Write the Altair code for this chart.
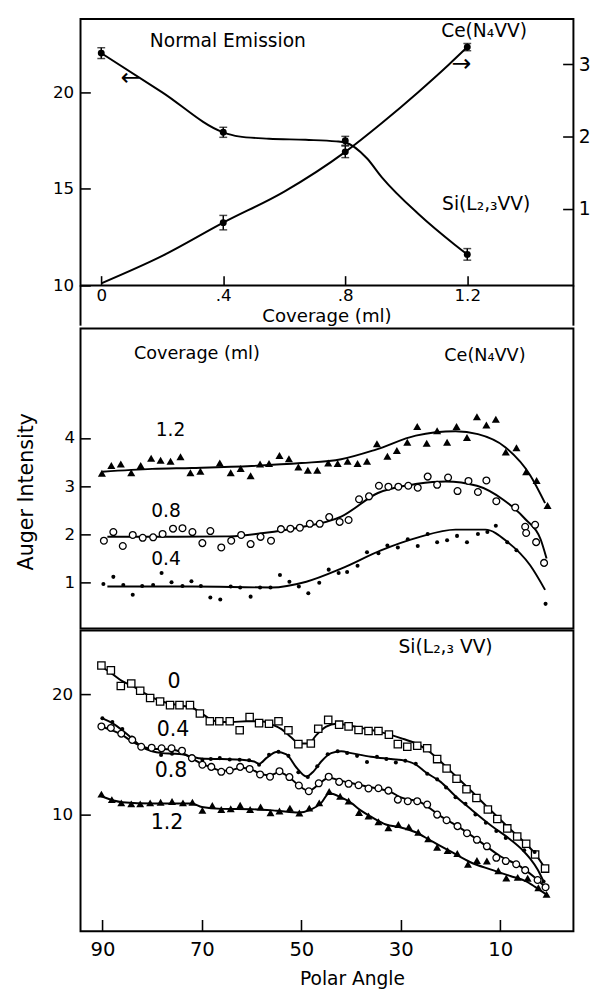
import altair as alt
import pandas as pd

FONT = "DejaVu Sans"
W = 503
H_TOP, H_MID, H_BOT = 272, 306, 307

# ---------------- top panel: normal emission vs coverage ----------------
cov = [0.0, 0.4, 0.8, 1.2]
si_ne = [22.03, 17.93, 17.49, 11.61]
si_ne_err = [0.28, 0.26, 0.23, 0.30]
ce_cov = [0.4, 0.8, 1.2]
ce_ne = [0.81, 1.79, 3.24]
ce_ne_err = [0.10, 0.08, 0.05]
si_fit = [(0.0, 22.03), (0.2, 20.0), (0.4, 17.93), (0.45, 17.72), (0.55, 17.6),
          (0.67, 17.54), (0.77, 17.46), (0.8, 17.4), (0.87, 16.6), (0.92, 15.6),
          (1.04, 13.7), (1.16, 12.1), (1.2, 11.61)]
ce_fit = [(0.0, -0.03), (0.2, 0.35), (0.4, 0.81), (0.6, 1.24), (0.8, 1.79),
          (0.92, 2.19), (1.04, 2.62), (1.14, 3.0), (1.2, 3.24)]

# ---------------- middle panel: Ce(N4VV) vs polar angle ----------------
ce12 = [(90.1, 3.27), (88.2, 3.43), (86.3, 3.46), (84.2, 3.28), (82.3, 3.43), (80.2, 3.58),
        (78.3, 3.54), (76.3, 3.52), (74.3, 3.61), (72.3, 3.28), (70.3, 3.31), (66.4, 3.48),
        (64.2, 3.28), (62.2, 3.37), (60.2, 3.22), (58.3, 3.46), (56.5, 3.47), (54.4, 3.64),
        (52.5, 3.57), (50.6, 3.40), (48.7, 3.33), (46.8, 3.33), (44.6, 3.48), (42.7, 3.47),
        (40.7, 3.52), (38.7, 3.47), (36.8, 3.52), (34.8, 3.88), (32.7, 3.62), (30.8, 3.74),
        (28.7, 3.91), (26.7, 4.24), (24.8, 3.89), (22.7, 4.15), (20.7, 3.91), (18.8, 4.24),
        (16.7, 4.01), (14.7, 4.44), (12.8, 4.27), (10.9, 4.39), (8.9, 3.71), (6.75, 3.80),
        (4.8, 3.30), (2.7, 3.12), (0.5, 2.60)]
ce08 = [(89.7, 1.87), (87.8, 2.05), (85.9, 1.76), (83.9, 1.99), (81.9, 1.93), (79.8, 1.94),
        (77.9, 2.01), (75.8, 2.12), (73.9, 2.13), (71.9, 2.05), (69.9, 1.82), (68.3, 2.07),
        (66.1, 1.73), (64.1, 1.87), (62.1, 1.99), (60.2, 1.80), (58.2, 1.95), (56.1, 1.87),
        (54.1, 2.11), (52.2, 2.12), (50.3, 2.14), (48.3, 2.22), (46.3, 2.22), (44.4, 2.36),
        (42.3, 2.26), (40.5, 2.30), (38.4, 2.73), (36.4, 2.79), (34.4, 3.01), (32.5, 2.99),
        (30.5, 2.99), (28.5, 3.01), (26.6, 2.97), (24.6, 3.20), (22.7, 3.03), (20.5, 3.18),
        (18.6, 2.90), (16.4, 3.11), (14.5, 2.88), (12.8, 3.12), (10.8, 2.69), (7.0, 2.56),
        (5.0, 2.16), (4.8, 2.03), (3.0, 2.20), (2.8, 1.84), (1.2, 1.41)]
ce04 = [(89.8, 0.97), (87.8, 1.12), (85.8, 0.95), (83.9, 0.75), (82.0, 0.93), (79.8, 0.95),
        (78.1, 1.20), (76.1, 1.01), (73.9, 0.93), (72.1, 1.03), (70.2, 0.93), (68.3, 0.69),
        (66.3, 0.65), (64.2, 0.92), (62.3, 0.90), (60.2, 0.71), (58.3, 0.90), (56.2, 0.90),
        (54.3, 1.16), (52.4, 1.02), (50.5, 0.92), (48.6, 0.78), (46.4, 1.00), (44.5, 1.27),
        (42.5, 1.20), (40.8, 1.22), (38.7, 1.35), (36.8, 1.63), (34.5, 1.61), (32.7, 1.77),
        (30.6, 1.73), (28.6, 1.90), (26.6, 1.76), (24.6, 2.01), (22.7, 1.84), (20.7, 1.88),
        (18.7, 1.97), (16.7, 1.84), (14.5, 2.01), (12.6, 2.05), (10.9, 2.18), (8.6, 1.84),
        (6.75, 1.67), (0.9, 0.56)]
ce12_fit = [(90, 3.3), (80, 3.36), (72, 3.38), (60, 3.42), (50, 3.48), (42, 3.56), (35, 3.76),
            (27, 4.05), (19, 4.14), (14.5, 4.08), (9, 3.81), (4, 3.23), (1, 2.65)]
ce08_fit = [(89, 1.95), (75, 1.95), (64.5, 1.96), (57.6, 2.03), (50.6, 2.14), (42, 2.37),
            (34.6, 2.86), (26.7, 3.05), (21, 3.10), (14.7, 3.01), (9.4, 2.72), (4.9, 2.31),
            (1.9, 1.90), (0.7, 1.50)]
ce04_fit = [(89, 0.92), (72, 0.92), (56, 0.90), (49, 1.02), (42, 1.29), (34, 1.67),
            (26.5, 1.94), (19, 2.10), (13, 2.10), (8.5, 1.84), (4, 1.36), (1, 0.85)]

# ---------------- bottom panel: Si(L2,3VV) vs polar angle ----------------
si0 = [(90.2, 22.4), (88.3, 22.0), (86.3, 20.7), (84.2, 20.9), (82.4, 20.3), (80.4, 19.7),
       (78.4, 19.4), (76.4, 19.1), (74.5, 19.1), (72.4, 19.1), (70.4, 18.4), (68.4, 17.75),
       (66.5, 17.75), (64.4, 17.75), (62.4, 17.0), (60.4, 18.1), (58.5, 17.6), (56.5, 17.55),
       (54.6, 17.75), (52.6, 17.0), (50.6, 15.85), (48.1, 15.9), (46.6, 17.13), (44.6, 17.87),
       (42.4, 17.47), (40.5, 17.33), (38.5, 17.02), (36.5, 16.94), (34.5, 16.94), (32.4, 16.64),
       (30.6, 15.85), (28.7, 15.63), (26.7, 15.71), (24.7, 15.5), (22.7, 14.6), (20.8, 13.81),
       (18.8, 12.96), (16.8, 12.09), (14.8, 11.36), (12.5, 10.4), (10.6, 9.6), (8.6, 8.82),
       (6.6, 8.14), (4.8, 7.54), (3.0, 6.64), (1.0, 5.47)]
si04 = [(90.0, 18.0), (88.0, 17.7), (86.0, 17.1), (84.1, 16.4), (82.1, 15.6), (78.2, 14.95),
        (76.0, 15.05), (74.0, 15.4), (72.0, 14.8), (69.9, 14.54), (68.2, 14.6), (66.4, 14.68),
        (64.4, 14.56), (62.4, 14.54), (60.5, 14.5), (58.5, 14.13), (56.5, 14.97), (54.6, 15.22),
        (52.6, 14.87), (50.6, 13.5), (48.7, 13.1), (46.8, 14.0), (44.7, 15.0), (42.7, 15.25),
        (40.8, 15.1), (38.8, 14.87), (36.8, 14.35), (34.8, 14.8), (32.9, 14.6), (31.0, 14.32),
        (29.1, 14.46), (27.0, 14.22), (24.7, 13.37), (22.7, 12.91), (20.9, 12.23), (19.0, 11.41),
        (17.0, 10.87), (15.0, 9.98), (12.9, 9.3), (10.8, 8.6), (8.9, 8.03), (5.2, 7.0),
        (3.1, 6.85), (1.3, 4.4)]
si08 = [(90.2, 17.32), (88.3, 17.2), (86.2, 16.72), (84.0, 16.2), (82.2, 15.63), (80.1, 15.55),
        (78.1, 15.5), (76.1, 15.5), (74.0, 15.3), (72.0, 14.68), (69.9, 14.13), (68.1, 13.95),
        (66.1, 13.54), (64.4, 13.65), (62.3, 13.95), (60.4, 13.78), (58.3, 13.32), (56.3, 13.13),
        (54.4, 13.59), (52.4, 13.1), (50.5, 12.4), (48.5, 11.92), (46.5, 12.58), (44.5, 13.13),
        (42.4, 12.7), (40.5, 12.54), (38.5, 12.42), (36.5, 12.15), (34.5, 12.17), (32.5, 11.97),
        (30.6, 11.22), (28.6, 11.09), (26.7, 11.09), (24.7, 10.81), (22.7, 9.97), (20.8, 9.5),
        (18.6, 9.01), (16.7, 8.42), (14.7, 7.87), (12.7, 7.33), (10.8, 6.37), (8.9, 6.1),
        (6.8, 5.83), (5.0, 5.34), (2.5, 4.52), (0.9, 3.92)]
si12 = [(90.2, 11.68), (88.1, 11.22), (86.2, 10.95), (84.2, 10.87), (82.4, 10.87), (80.4, 10.95),
        (78.3, 11.0), (76.0, 11.06), (73.8, 10.95), (71.9, 11.0), (69.9, 10.32), (67.9, 10.73),
        (66.1, 10.4), (64.2, 10.46), (62.3, 10.75), (60.3, 10.4), (58.2, 10.6), (56.2, 10.13),
        (54.4, 10.27), (52.3, 10.51), (50.4, 10.1), (48.4, 10.51), (46.4, 10.95), (44.4, 11.9),
        (42.2, 11.5), (40.5, 11.1), (38.4, 10.15), (36.5, 9.85), (34.5, 9.37), (32.5, 8.88),
        (30.5, 9.15), (28.4, 8.95), (26.5, 8.5), (24.5, 7.95), (22.7, 7.25), (20.6, 6.97),
        (18.65, 6.73), (16.5, 5.83), (14.7, 6.15), (12.7, 6.1), (10.4, 5.29), (8.8, 4.68),
        (6.5, 4.74), (4.5, 4.66), (2.35, 3.87), (0.7, 3.32)]
si0_fit = [(90.2, 22.3), (88, 21.7), (86, 21.1), (84, 20.7), (82, 20.2), (80, 19.75), (78, 19.4),
           (76, 19.2), (74, 19.05), (72, 18.9), (70, 18.4), (68, 17.85), (66, 17.7), (64, 17.7),
           (61, 17.75), (58, 17.75), (56, 17.5), (54, 17.1), (52, 16.4), (50.5, 15.9), (48.5, 15.9),
           (47, 16.6), (45, 17.3), (43, 17.55), (41, 17.45), (38, 17.2), (34, 16.85), (30, 16.35),
           (27, 15.9), (24.5, 15.3), (22, 14.4), (20, 13.6), (16, 12.0), (12, 10.35), (8, 8.75),
           (5, 7.6), (3, 6.7), (1, 5.5)]
si04_fit = [(90, 18.0), (88, 17.6), (86, 17.0), (84, 16.3), (82, 15.6), (80, 15.25), (78, 15.1),
            (76, 15.05), (74, 15.0), (72, 14.8), (70, 14.65), (66, 14.6), (62, 14.55), (59.5, 14.4),
            (58.5, 14.2), (57, 14.7), (55, 15.2), (53, 15.0), (51, 13.9), (49, 13.15), (47.5, 13.6),
            (46, 14.4), (44, 15.1), (42, 15.25), (40, 15.1), (36, 14.8), (32, 14.6), (29, 14.45),
            (27, 14.15), (25, 13.5), (22, 12.7), (19, 11.5), (16, 10.45), (12, 9.1), (8, 7.9),
            (5.5, 7.0), (4, 6.3), (2.5, 5.4), (1.3, 4.4)]
si08_fit = [(90.2, 17.3), (88, 17.0), (86, 16.6), (84, 16.05), (82, 15.65), (80, 15.45), (78, 15.45),
            (76, 15.4), (74, 15.15), (72, 14.65), (70, 14.2), (68, 13.9), (66, 13.62), (64, 13.7),
            (62, 13.88), (60, 13.72), (58, 13.35), (56.3, 13.25), (54.5, 13.5), (52.5, 13.1),
            (50.5, 12.4), (48.5, 11.95), (46.5, 12.5), (44.5, 13.05), (42.5, 12.85), (40, 12.6),
            (36, 12.25), (32, 11.85), (30, 11.4), (26, 11.0), (22, 9.85), (18, 8.85), (14, 7.7),
            (10, 6.5), (6, 5.65), (3, 4.7), (0.9, 3.9)]
si12_fit = [(90.2, 11.5), (86, 11.0), (80, 10.9), (72, 10.9), (70, 10.6), (66, 10.45), (60, 10.42),
            (55, 10.3), (50.5, 10.15), (48, 10.4), (46, 10.95), (44.4, 11.75), (42, 11.4), (40, 10.95),
            (38, 10.3), (36, 9.8), (33, 9.15), (30, 8.9), (27, 8.5), (24, 7.8), (20, 6.9), (16, 6.0),
            (12, 5.4), (8, 4.85), (5, 4.45), (3, 3.95), (0.7, 3.3)]

# annotation texts (positions in data units)
top_labels = [("Normal Emission", 0.415, 22.66), ("Ce(N\u2084VV)", 1.255, 23.17),
              ("Si(L\u2082,\u2083VV)", 1.262, 14.22)]
top_arrows = [("\u2190", 0.096, 20.73), ("\u2192", 1.181, 21.44)]
mid_labels = [("Coverage (ml)", 71.0, 5.74), ("Ce(N\u2084VV)", 13.1, 5.70)]
mid_curve_labels = [("1.2", 76.3, 4.16), ("0.8", 77.2, 2.49), ("0.4", 77.2, 1.49)]
bot_labels = [("Si(L\u2082,\u2083 VV)", 21.0, 23.94)]
bot_curve_labels = [("0", 75.6, 21.0), ("0.4", 75.8, 17.0), ("0.8", 76.2, 13.56), ("1.2", 77.0, 9.23)]


def pairs_df(pairs, xname="a", yname="v"):
    return pd.DataFrame(pairs, columns=[xname, yname])


def text_df(items, xname="a"):
    return pd.DataFrame(items, columns=["t", xname, "v"])


one = pd.DataFrame({"k": [0]})

# ---------------- scales & axes ----------------
cov_scale = alt.Scale(domain=[-0.068, 1.548], nice=False, zero=False)
si_top_scale = alt.Scale(domain=[10, 23.8], nice=False, zero=False)
ce_top_scale = alt.Scale(domain=[-0.06, 3.63], nice=False, zero=False)
ang_scale = alt.Scale(domain=[-4.7, 94.4], reverse=True, nice=False, zero=False)
mid_scale = alt.Scale(domain=[0.05, 6.27], nice=False, zero=False)
bot_scale = alt.Scale(domain=[0.245, 25.33], nice=False, zero=False)

cov_axis = alt.Axis(values=[0, 0.4, 0.8, 1.2], offset=-10, tickSize=10, labelPadding=2,
                    labelFontSize=17, title=None,
                    labelExpr="datum.value == 0 ? '0' : (datum.value < 1 ? replace(format(datum.value, '.1f'), '0.', '.') : format(datum.value, '.1f'))")
si_top_axis = alt.Axis(values=[10, 15, 20], offset=-10, tickSize=10, labelPadding=7,
                       labelFontSize=17, title=None)
ce_top_axis = alt.Axis(orient="right", values=[1, 2, 3], offset=-11, tickSize=11,
                       labelPadding=5, labelFontSize=19, title=None)
mid_axis = alt.Axis(values=[1, 2, 3, 4], offset=-10, tickSize=10, labelPadding=6,
                    labelFontSize=17, title=None)
bot_axis = alt.Axis(values=[10, 20], offset=-10, tickSize=10, labelPadding=8,
                    labelFontSize=17, title=None)
ang_axis = alt.Axis(values=[90, 70, 50, 30, 10], offset=-12, tickSize=12, labelPadding=9,
                    labelFontSize=20, title=None, format="d")

X_cov = alt.X("c:Q", scale=cov_scale, axis=cov_axis)
LW = 2.0

# ---------------- top chart ----------------
si_pts_df = pd.DataFrame({"c": cov, "v": si_ne,
                          "lo": [v - e for v, e in zip(si_ne, si_ne_err)],
                          "hi": [v + e for v, e in zip(si_ne, si_ne_err)]})
ce_pts_df = pd.DataFrame({"c": ce_cov, "v": ce_ne,
                          "lo": [v - e for v, e in zip(ce_ne, ce_ne_err)],
                          "hi": [v + e for v, e in zip(ce_ne, ce_ne_err)]})


def series_group(fit_pairs, pts_df, yscale, yaxis):
    Y = alt.Y("v:Q", scale=yscale, axis=yaxis)
    line = alt.Chart(pairs_df(fit_pairs, "c")).mark_line(
        color="black", strokeWidth=LW, interpolate="monotone").encode(x=X_cov, y=Y)
    bar = alt.Chart(pts_df).mark_rule(color="black", strokeWidth=1.5).encode(
        x=X_cov, y=alt.Y("lo:Q", scale=yscale, axis=yaxis), y2="hi:Q")
    cap_lo = alt.Chart(pts_df).mark_tick(color="black", orient="horizontal", size=8,
                                         thickness=1.5).encode(
        x=X_cov, y=alt.Y("lo:Q", scale=yscale, axis=yaxis))
    cap_hi = alt.Chart(pts_df).mark_tick(color="black", orient="horizontal", size=8,
                                         thickness=1.5).encode(
        x=X_cov, y=alt.Y("hi:Q", scale=yscale, axis=yaxis))
    pts = alt.Chart(pts_df).mark_circle(color="black", size=50, opacity=1).encode(x=X_cov, y=Y)
    return [line, bar, cap_lo, cap_hi, pts]


si_layers = series_group(si_fit, si_pts_df, si_top_scale, si_top_axis)
Y_si = alt.Y("v:Q", scale=si_top_scale, axis=si_top_axis)
si_layers.append(alt.Chart(text_df(top_labels, "c")).mark_text(
    fontSize=19, color="black", align="center", baseline="middle").encode(
    x=X_cov, y=Y_si, text="t:N"))
si_layers.append(alt.Chart(text_df(top_arrows, "c")).mark_text(
    fontSize=24, color="black", align="center", baseline="middle").encode(
    x=X_cov, y=Y_si, text="t:N"))
si_group = alt.layer(*si_layers)
ce_group = alt.layer(*series_group(ce_fit, ce_pts_df, ce_top_scale, ce_top_axis))

cov_title = alt.Chart(pd.DataFrame({"t": ["Coverage (ml)"]})).mark_text(
    fontSize=18.5, color="black", align="center", baseline="alphabetic").encode(
    x=alt.value(W / 2), y=alt.value(309), text="t:N")
frame_l = alt.Chart(one).mark_rule(color="black", strokeWidth=2).encode(
    x=alt.value(0), y=alt.value(H_TOP), y2=alt.value(313))
frame_r = alt.Chart(one).mark_rule(color="black", strokeWidth=2).encode(
    x=alt.value(W), y=alt.value(H_TOP), y2=alt.value(313))

top = alt.layer(si_group, ce_group, cov_title, frame_l, frame_r).resolve_scale(
    y="independent").properties(width=W, height=H_TOP)

# ---------------- middle chart ----------------
X_ang_none = alt.X("a:Q", scale=ang_scale, axis=None)
X_ang = alt.X("a:Q", scale=ang_scale, axis=ang_axis)
ORD = alt.Order("a:Q", sort="descending")


def fit_line(pairs, X, Y):
    return alt.Chart(pairs_df(pairs)).mark_line(
        color="black", strokeWidth=LW, interpolate="monotone").encode(x=X, y=Y, order=ORD)


def tri(pairs, X, Y, size=68):
    return alt.Chart(pairs_df(pairs)).mark_point(
        shape="triangle-up", filled=True, color="black", size=size, opacity=1).encode(x=X, y=Y)


def ocirc(pairs, X, Y, size=48):
    return alt.Chart(pairs_df(pairs)).mark_point(
        shape="circle", filled=True, fill="white", stroke="black", strokeWidth=1.3,
        size=size, opacity=1).encode(x=X, y=Y)


def dots(pairs, X, Y, size=17):
    return alt.Chart(pairs_df(pairs)).mark_circle(
        color="black", size=size, opacity=1).encode(x=X, y=Y)


def osq(pairs, X, Y, size=56):
    return alt.Chart(pairs_df(pairs)).mark_point(
        shape="square", filled=True, fill="white", stroke="black", strokeWidth=1.3,
        size=size, opacity=1).encode(x=X, y=Y)


Y_mid = alt.Y("v:Q", scale=mid_scale, axis=mid_axis)
mid = alt.layer(
    fit_line(ce12_fit, X_ang_none, Y_mid),
    fit_line(ce08_fit, X_ang_none, Y_mid),
    fit_line(ce04_fit, X_ang_none, Y_mid),
    tri(ce12, X_ang_none, Y_mid),
    ocirc(ce08, X_ang_none, Y_mid),
    dots(ce04, X_ang_none, Y_mid),
    alt.Chart(text_df(mid_labels)).mark_text(fontSize=18, color="black", align="center",
                                             baseline="middle").encode(
        x=X_ang_none, y=Y_mid, text="t:N"),
    alt.Chart(text_df(mid_curve_labels)).mark_text(fontSize=19, color="black", align="center",
                                                   baseline="middle").encode(
        x=X_ang_none, y=Y_mid, text="t:N"),
    alt.Chart(pd.DataFrame({"t": ["Auger Intensity"]})).mark_text(
        fontSize=21, color="black", align="center", baseline="middle", angle=270).encode(
        x=alt.value(-54.5), y=alt.value(166.5), text="t:N"),
).properties(width=W, height=H_MID)

# ---------------- bottom chart ----------------
Y_bot = alt.Y("v:Q", scale=bot_scale, axis=bot_axis)
bot = alt.layer(
    fit_line(si0_fit, X_ang, Y_bot),
    fit_line(si04_fit, X_ang, Y_bot),
    fit_line(si08_fit, X_ang, Y_bot),
    fit_line(si12_fit, X_ang, Y_bot),
    osq(si0, X_ang, Y_bot),
    dots(si04, X_ang, Y_bot),
    ocirc(si08, X_ang, Y_bot),
    tri(si12, X_ang, Y_bot, size=66),
    alt.Chart(text_df(bot_labels)).mark_text(fontSize=19, color="black", align="center",
                                             baseline="middle").encode(
        x=X_ang, y=Y_bot, text="t:N"),
    alt.Chart(text_df(bot_curve_labels)).mark_text(fontSize=21, color="black", align="center",
                                                   baseline="middle").encode(
        x=X_ang, y=Y_bot, text="t:N"),
    alt.Chart(pd.DataFrame({"t": ["Polar Angle"]})).mark_text(
        fontSize=19, color="black", align="center", baseline="alphabetic").encode(
        x=alt.value(277.5), y=alt.value(362), text="t:N"),
).properties(width=W, height=H_BOT)

chart = alt.vconcat(top, mid, bot, spacing=0).properties(
    padding={"left": 7, "top": 0, "right": 2, "bottom": 0}
).configure_view(stroke="black", strokeWidth=2).configure_axis(
    grid=False, domain=False, tickColor="black", tickWidth=1.6, labelColor="black",
    labelFont=FONT
).configure_text(font=FONT)

chart.save("out.html", embed_options={"renderer": "svg", "actions": False})
